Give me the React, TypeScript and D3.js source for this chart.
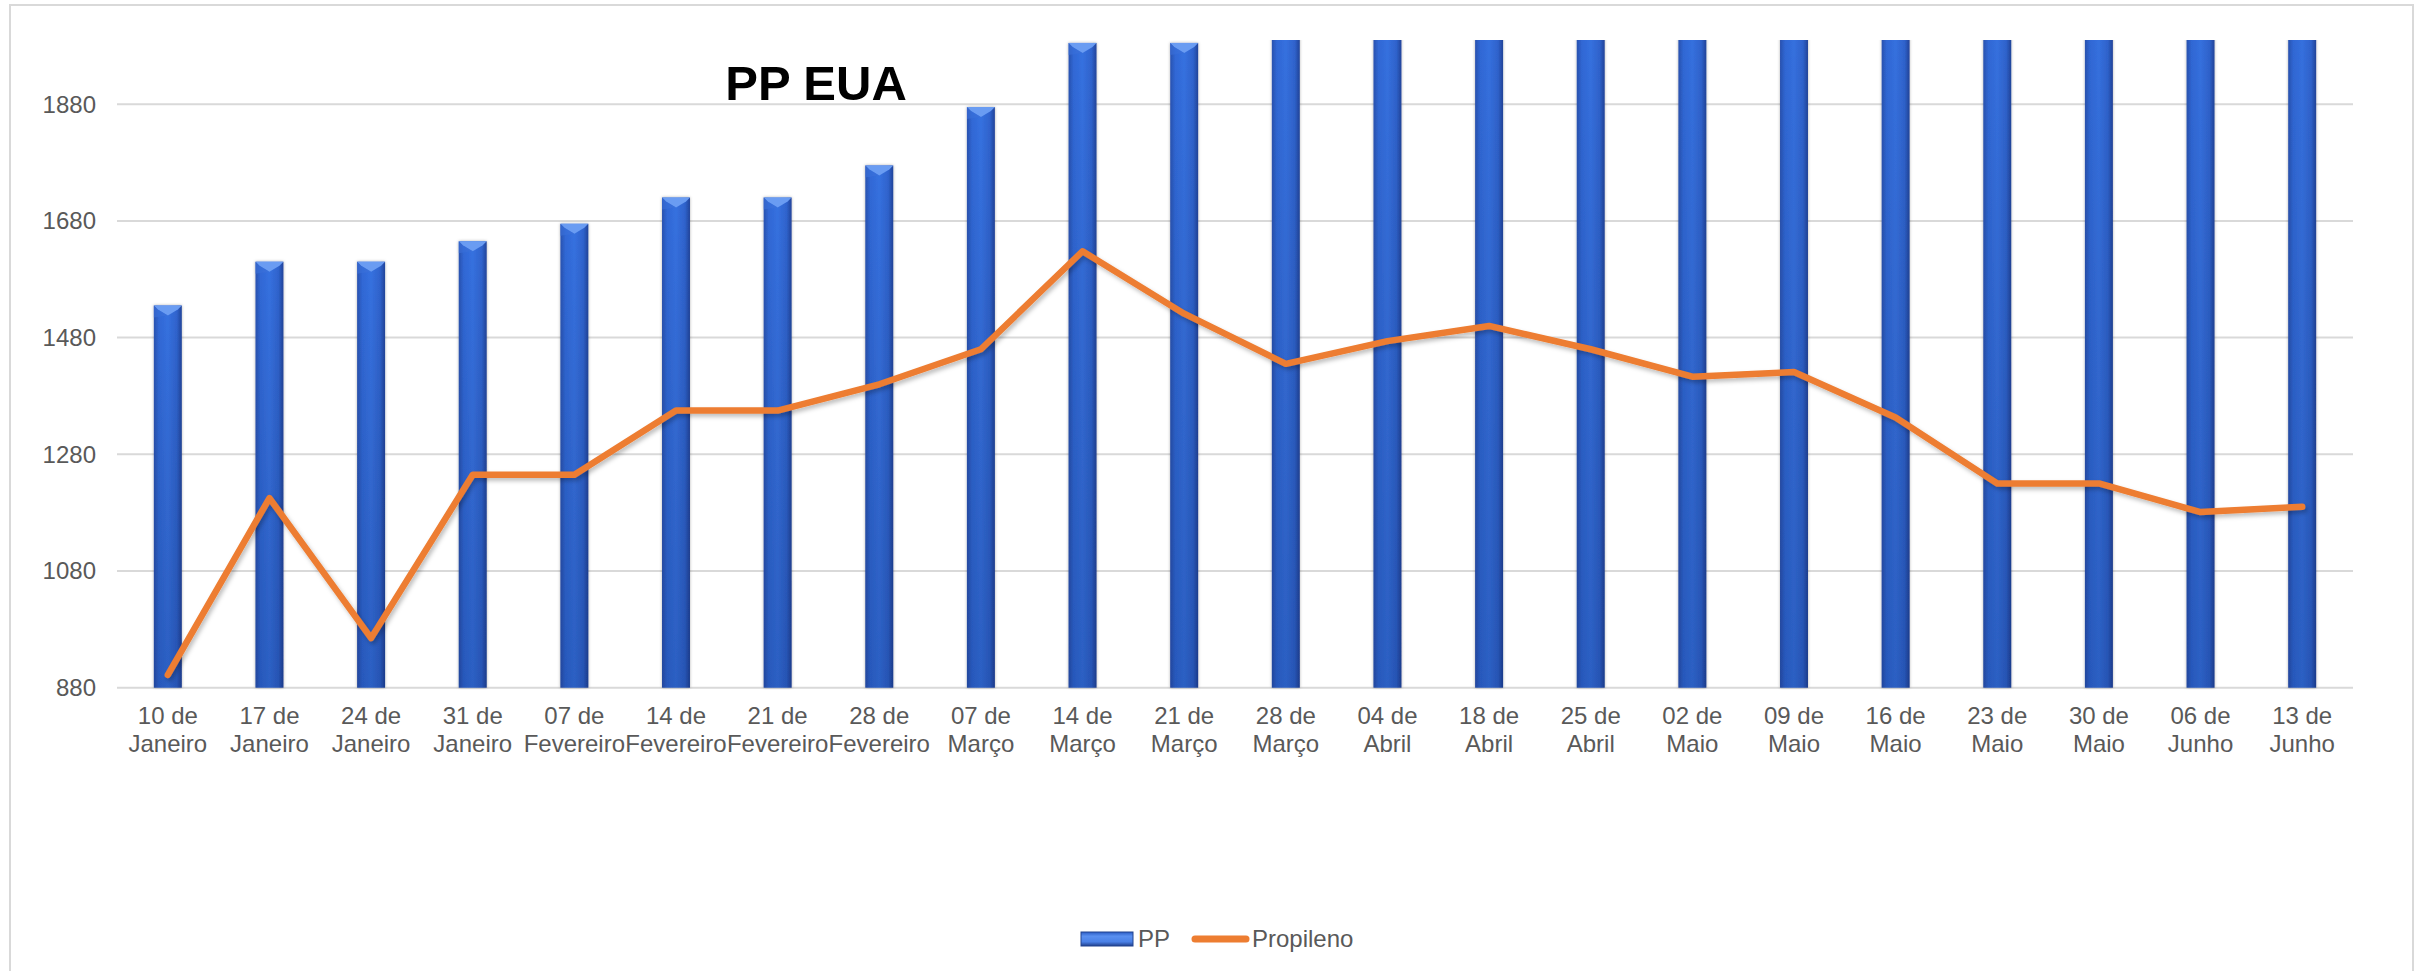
import * as d3 from "d3";

const weeks = [
  "10 de|Janeiro", "17 de|Janeiro", "24 de|Janeiro", "31 de|Janeiro",
  "07 de|Fevereiro", "14 de|Fevereiro", "21 de|Fevereiro", "28 de|Fevereiro",
  "07 de|Março", "14 de|Março", "21 de|Março", "28 de|Março",
  "04 de|Abril", "18 de|Abril", "25 de|Abril", "02 de|Maio",
  "09 de|Maio", "16 de|Maio", "23 de|Maio", "30 de|Maio",
  "06 de|Junho", "13 de|Junho",
];

// PP bars: the last ones run past the top of the axis and are cut off
const ppValues = [
  1535, 1610, 1610, 1645, 1675, 1720, 1720, 1775, 1875, 1985, 1985,
  2030, 2030, 2040, 2040, 2050, 2050, 2050, 2060, 2060, 2060, 2060,
];

const propilenoValues = [
  902, 1205, 965, 1245, 1245, 1355, 1355, 1400, 1460, 1628, 1521,
  1435, 1474, 1500, 1460, 1413, 1421, 1343, 1230, 1230, 1181, 1190,
];

const yTicks = [880, 1080, 1280, 1480, 1680, 1880];

const width = 2428;
const height = 971;
const plot = { left: 117, right: 2353, top: 40, bottom: 687.7 };
const font = "'Liberation Sans', Arial, sans-serif";
const textColor = "#595959";

export default function App() {
  const x = d3
    .scaleBand()
    .domain(weeks)
    .range([plot.left, plot.right])
    .padding(0);

  const y = d3.scaleLinear().domain([880, 1990]).range([plot.bottom, plot.top]);

  const barW = x.bandwidth() * 0.275;
  const cx = (d: string) => (x(d) as number) + x.bandwidth() / 2;

  const line = d3
    .line<number>()
    .x((_, i) => cx(weeks[i]))
    .y((d) => y(d));

  return (
    <svg
      width={width}
      height={height}
      style={{ position: "absolute", left: 0, top: 0, background: "#fff" }}
      fontFamily={font}
    >
      <defs>
        <linearGradient id="barGrad" x1="0" x2="1" y1="0" y2="0">
          <stop offset="0" stopColor="#2a52b0" />
          <stop offset="0.18" stopColor="#3068d6" />
          <stop offset="0.5" stopColor="#3671e0" />
          <stop offset="0.82" stopColor="#2f63cd" />
          <stop offset="1" stopColor="#22449a" />
        </linearGradient>
        <linearGradient id="barShade" x1="0" x2="0" y1="0" y2="1">
          <stop offset="0" stopColor="#000" stopOpacity="0" />
          <stop offset="1" stopColor="#001040" stopOpacity="0.18" />
        </linearGradient>
        <linearGradient id="legendGrad" x1="0" x2="0" y1="0" y2="1">
          <stop offset="0" stopColor="#2b5cc4" />
          <stop offset="0.3" stopColor="#5a90f0" />
          <stop offset="0.7" stopColor="#4a80e6" />
          <stop offset="1" stopColor="#1f3f8c" />
        </linearGradient>
        <filter id="barShadow" x="-50%" y="-5%" width="200%" height="110%">
          <feDropShadow dx="0" dy="0" stdDeviation="1.5" floodColor="#000" floodOpacity="0.3" />
        </filter>
        <filter id="lineShadow" x="-5%" y="-10%" width="110%" height="120%">
          <feDropShadow dx="2" dy="3" stdDeviation="2" floodColor="#000" floodOpacity="0.25" />
        </filter>
        <clipPath id="plotClip">
          <rect
            x={plot.left}
            y={plot.top}
            width={plot.right - plot.left}
            height={plot.bottom - plot.top + 2}
          />
        </clipPath>
      </defs>

      <rect x={10} y={5} width={2403} height={990} fill="#fff" stroke="#d9d9d9" strokeWidth={2} />

      {/* gridlines + y labels */}
      {yTicks.map((t) => (
        <g key={t}>
          <line x1={plot.left} x2={plot.right} y1={y(t)} y2={y(t)} stroke="#d9d9d9" strokeWidth={2} />
          <text x={96} y={y(t)} dy="0.35em" textAnchor="end" fontSize={24} fill={textColor}>
            {t}
          </text>
        </g>
      ))}

      {/* bars */}
      <g clipPath="url(#plotClip)">
        {weeks.map((w, i) => {
          const top = y(ppValues[i]);
          const x0 = cx(w) - barW / 2;
          return (
            <g key={w} filter="url(#barShadow)">
              <rect x={x0} y={top} width={barW} height={plot.bottom - top} fill="url(#barGrad)" />
              <rect x={x0} y={top} width={barW} height={plot.bottom - top} fill="url(#barShade)" />
              <polygon
                points={`${x0},${top} ${x0 + barW},${top} ${x0 + barW - 4},${top + 4} ${cx(w)},${top + 10} ${x0 + 4},${top + 4}`}
                fill="#6a9cf2"
              />
              <polygon
                points={`${x0},${top} ${x0 + 4},${top + 4} ${cx(w)},${top + 10} ${x0},${top + 12}`}
                fill="#3a6fd8"
                opacity={0.6}
              />
            </g>
          );
        })}
      </g>

      {/* propileno line */}
      <path
        d={line(propilenoValues) as string}
        fill="none"
        stroke="#ED7D31"
        strokeWidth={6.5}
        strokeLinejoin="round"
        strokeLinecap="round"
        filter="url(#lineShadow)"
      />

      {/* x labels */}
      {weeks.map((w) => {
        const [a, b] = w.split("|");
        return (
          <text key={w} x={cx(w)} textAnchor="middle" fontSize={24} fill={textColor}>
            <tspan x={cx(w)} y={724}>{a}</tspan>
            <tspan x={cx(w)} y={752}>{b}</tspan>
          </text>
        );
      })}

      {/* title */}
      <text x={816} y={100} textAnchor="middle" fontSize={49} fontWeight="bold" fill="#000">
        PP EUA
      </text>

      {/* legend */}
      <rect x={1081} y={932} width={52} height={14} fill="url(#legendGrad)" stroke="#23458f" strokeWidth={1} />
      <text x={1138} y={947} fontSize={24} fill={textColor}>PP</text>
      <line x1={1195} x2={1246} y1={939} y2={939} stroke="#ED7D31" strokeWidth={7} strokeLinecap="round" />
      <text x={1252} y={947} fontSize={24} fill={textColor}>Propileno</text>
    </svg>
  );
}
